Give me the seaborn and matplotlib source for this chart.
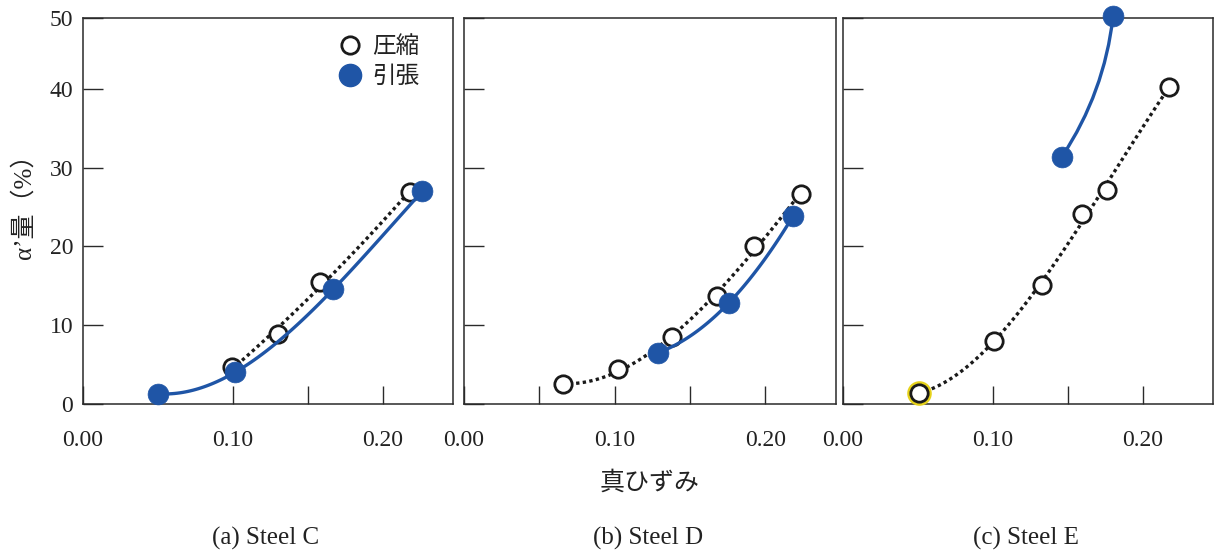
import numpy as np
import pandas as pd
import matplotlib
matplotlib.use("Agg")
import matplotlib.pyplot as plt
from matplotlib.lines import Line2D
import seaborn as sns

# ---------------- data ----------------
panel_titles = ["(a) Steel C", "(b) Steel D", "(c) Steel E"]
legend_labels = ["圧縮", "引張"]
x_label = "真ひずみ"
y_label = "α’量（%）"

c_comp_strain = [0.0995, 0.130, 0.1585, 0.218]
c_comp_alpha = [4.7, 8.9, 15.5, 26.9]
c_tens_strain = [0.0504, 0.1017, 0.167, 0.2265]
c_tens_alpha = [1.3, 4.05, 14.55, 27.0]

d_comp_strain = [0.0656, 0.1024, 0.138, 0.1678, 0.1928, 0.2235]
d_comp_alpha = [2.5, 4.4, 8.5, 13.7, 20.0, 26.65]
d_tens_strain = [0.1287, 0.1759, 0.2186]
d_tens_alpha = [6.5, 12.85, 23.9]

e_comp_strain = [0.0508, 0.1005, 0.133, 0.1594, 0.176, 0.2174]
e_comp_alpha = [1.4, 8.0, 15.1, 24.1, 27.2, 40.2]
e_tens_strain = [0.1462, 0.1803]
e_tens_alpha = [31.4, 49.2]

x_ticks = [0.0, 0.05, 0.10, 0.15, 0.20]
x_ticklabels = ["0.00", "", "0.10", "", "0.20"]
y_ticks = [0, 10, 20, 30, 40, 49]
y_ticklabels = ["0", "10", "20", "30", "40", "50"]
x_limits = (0.0, 0.247)
y_limits = (0.0, 49.0)

# ---------------- style ----------------
sns.set_theme(style="ticks")
SERIF = ["Liberation Serif", "Noto Sans CJK JP", "DejaVu Sans"]
CJK = ["Noto Sans CJK JP", "Liberation Serif", "DejaVu Sans"]
plt.rcParams["font.family"] = SERIF

BLUE = "#1f55a6"
BLACK = "#1a1a1a"
SPINE = "#2a2a2a"

W, H = 1217, 551
fig = plt.figure(figsize=(W / 100, H / 100), dpi=100)

boxes = [(83, 18, 453, 404), (464, 18, 836, 404), (843, 18, 1213, 404)]
axes = []
for (l, t, r, b) in boxes:
    axes.append(fig.add_axes([l / W, 1 - b / H, (r - l) / W, (b - t) / H]))

panels = [
    (c_comp_strain, c_comp_alpha, c_tens_strain, c_tens_alpha, 2, 3),
    (d_comp_strain, d_comp_alpha, d_tens_strain, d_tens_alpha, 3, 2),
    (e_comp_strain, e_comp_alpha, e_tens_strain, e_tens_alpha, 3, None),
]

for i, (ax, (cx, cy, tx, ty, oc, ot)) in enumerate(zip(axes, panels)):
    comp = pd.DataFrame({"strain": cx, "alpha": cy})
    tens = pd.DataFrame({"strain": tx, "alpha": ty})

    # dotted compression curve
    sns.regplot(data=comp, x="strain", y="alpha", order=oc, ci=None,
                scatter=False, truncate=True, ax=ax,
                line_kws=dict(color=BLACK, lw=2.4, ls=(0, (1, 1)), zorder=2))
    if i == 2:
        # yellowish halo on first point of panel (c)
        ax.scatter(cx[:1], cy[:1], s=15.5 ** 2, facecolor="white",
                   edgecolor="#e6d21a", linewidth=2.2, zorder=3, clip_on=False)
    sns.scatterplot(data=comp, x="strain", y="alpha", ax=ax, s=12.5 ** 2,
                    facecolor="white", edgecolor=BLACK, linewidth=2.0,
                    zorder=4, clip_on=False, legend=False)

    # solid tension curve
    if ot is not None:
        sns.regplot(data=tens, x="strain", y="alpha", order=ot, ci=None,
                    scatter=False, truncate=True, ax=ax,
                    line_kws=dict(color=BLUE, lw=2.4, zorder=5))
    else:
        ax.annotate("", xy=(tx[1], ty[1]), xytext=(tx[0], ty[0]),
                    xycoords="data", textcoords="data",
                    arrowprops=dict(arrowstyle="-", color=BLUE, lw=2.4,
                                    shrinkA=0, shrinkB=0,
                                    connectionstyle="arc3,rad=0.12"),
                    annotation_clip=False, zorder=5)
    sns.scatterplot(data=tens, x="strain", y="alpha", ax=ax, s=15 ** 2,
                    color=BLUE, edgecolor=BLUE, linewidth=0.5,
                    zorder=6, clip_on=False, legend=False)

    ax.set_xlim(*x_limits)
    ax.set_ylim(*y_limits)
    ax.set_xticks(x_ticks)
    ax.set_yticks(y_ticks)
    ax.set_xticklabels(x_ticklabels)
    if i == 0:
        ax.set_yticklabels(y_ticklabels)
    else:
        ax.set_yticklabels([])
    ax.set_xlabel("")
    ax.set_ylabel("")
    ax.tick_params(axis="x", direction="in", length=13, width=1.0,
                   color=SPINE, labelsize=17, pad=19, labelcolor="#222222")
    ax.tick_params(axis="y", direction="in", length=14.5, width=1.0,
                   color=SPINE, labelsize=17, pad=7, labelcolor="#222222")
    for sp in ax.spines.values():
        sp.set_visible(True)
        sp.set_color(SPINE)
        sp.set_linewidth(1.1)

    fig.text(((boxes[i][0] + boxes[i][2]) / 2 - 2) / W, 1 - 538 / H,
             panel_titles[i], ha="center", va="center", fontsize=18,
             family=SERIF, color="#222222")

# legend in panel (a)
handles = [
    Line2D([], [], ls="none", marker="o", ms=12.5, mfc="white",
           mec=BLACK, mew=2.0),
    Line2D([], [], ls="none", marker="o", ms=16, mfc=BLUE, mec=BLUE),
]
leg = axes[0].legend(handles, legend_labels, loc="upper right",
                     bbox_to_anchor=(0.96, 1.005), frameon=False,
                     handletextpad=0.35, labelspacing=0.3, borderpad=0.3,
                     handlelength=1.2, prop=dict(family=CJK, size=17))
for t in leg.get_texts():
    t.set_color("#222222")

fig.text(((464 + 836) / 2) / W, 1 - 483 / H, x_label, ha="center",
         va="center", fontsize=18, family=CJK, color="#222222")
fig.text(24 / W, 1 - 200 / H, y_label, ha="center", va="center",
         rotation=90, fontsize=18, family=SERIF, color="#222222")

fig.savefig("out.png", dpi=100)
